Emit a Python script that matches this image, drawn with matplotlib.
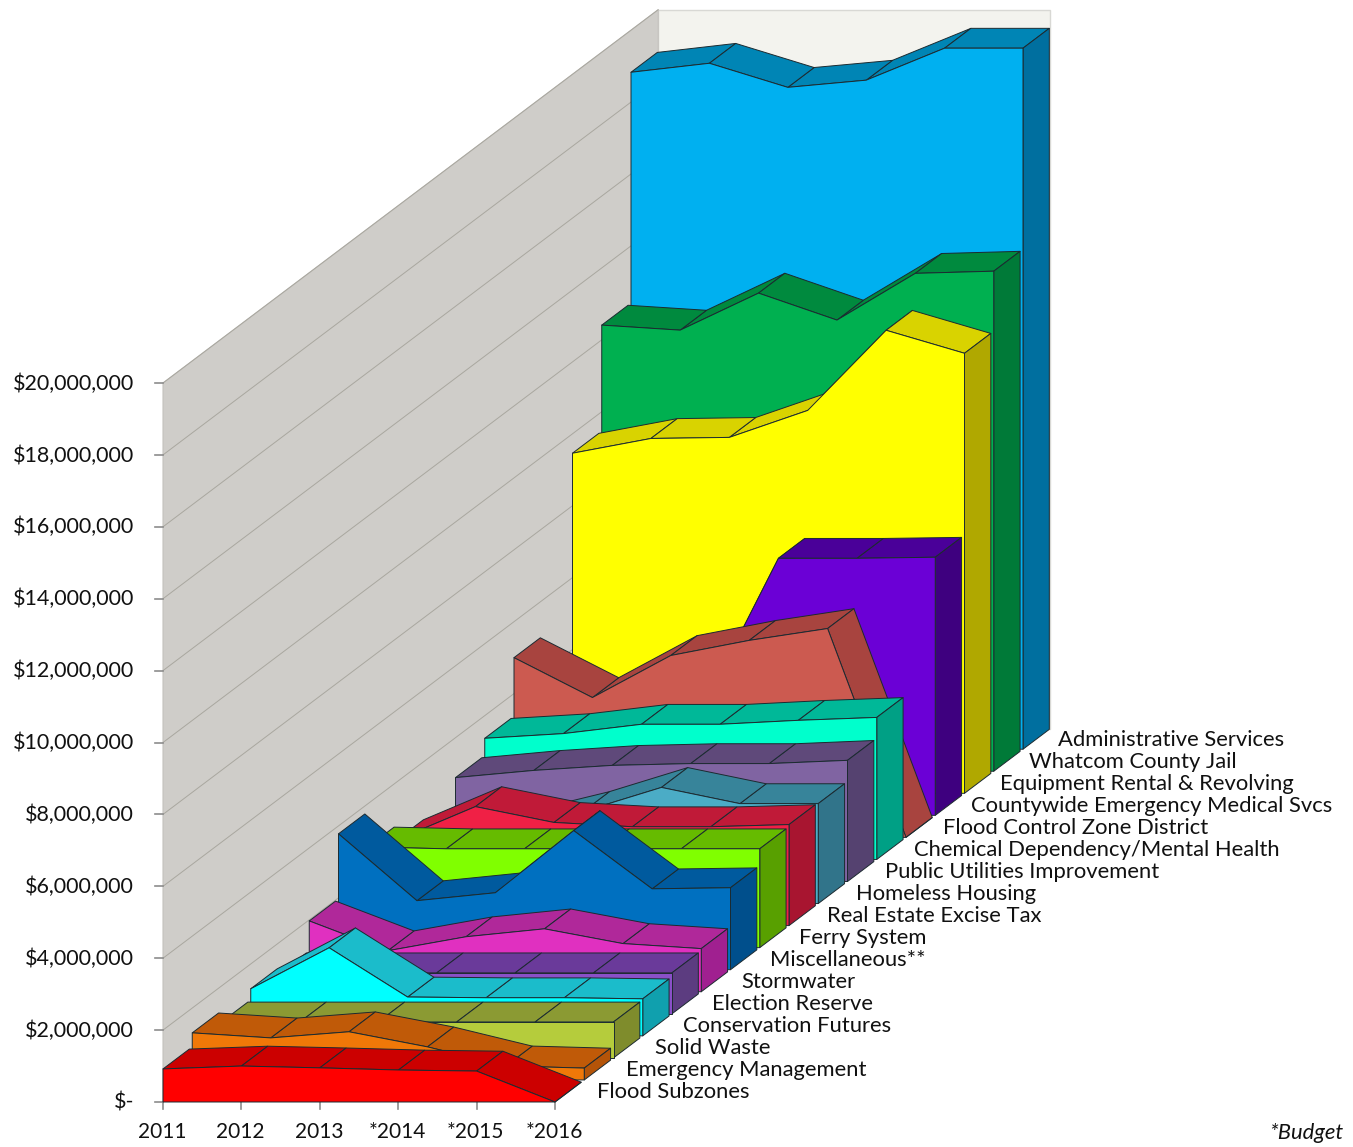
import matplotlib
matplotlib.use('Agg')
import matplotlib.pyplot as plt
from matplotlib.patches import Polygon

plt.rcParams['font.family'] = ['Lato', 'DejaVu Sans']

# Fund totals per year, in millions of dollars
years = ['2011', '2012', '2013', '*2014', '*2015', '*2016']
flood_subzones = [0.92, 1.00, 0.95, 0.89, 0.86, 0.0]
emergency_mgmt = [1.31, 1.17, 1.34, 0.92, 0.39, 0.33]
solid_waste = [1.0, 1.0, 1.0, 1.0, 1.0, 1.0]
conservation = [1.31, 2.45, 1.08, 1.06, 1.06, 1.03]
election_reserve = [1.14, 1.14, 1.14, 1.14, 1.14, 1.14]
stormwater = [1.97, 1.14, 1.53, 1.75, 1.34, 1.20]
miscellaneous = [3.78, 1.92, 2.14, 3.87, 2.25, 2.28]
ferry_system = [2.80, 2.75, 2.75, 2.75, 2.75, 2.75]
real_estate_tax = [2.39, 3.31, 2.87, 2.75, 2.75, 2.81]
homeless_housing = [2.00, 2.03, 2.56, 3.23, 2.78, 2.78]
public_utilities = [2.89, 3.09, 3.23, 3.28, 3.28, 3.37]
chemical_dep = [3.37, 3.50, 3.76, 3.76, 3.87, 3.95]
flood_control = [5.00, 3.89, 5.06, 5.48, 5.81, 0.0]
emergency_medical = [2.00, 2.50, 2.85, 7.15, 7.15, 7.18]
equipment_rental = [9.46, 9.87, 9.90, 10.65, 12.88, 12.24]
county_jail = [12.41, 12.27, 13.30, 12.55, 13.85, 13.91]
admin_services = [18.83, 19.08, 18.41, 18.61, 19.50, 19.50]

# front to back
series_names = ['Flood Subzones', 'Emergency Management', 'Solid Waste', 'Conservation Futures',
                'Election Reserve', 'Stormwater', 'Miscellaneous**', 'Ferry System',
                'Real Estate Excise Tax', 'Homeless Housing', 'Public Utilities Improvement',
                'Chemical Dependency/Mental Health', 'Flood Control Zone District',
                'Countywide Emergency Medical Svcs', 'Equipment Rental & Revolving',
                'Whatcom County Jail', 'Administrative Services']
series_values = [flood_subzones, emergency_mgmt, solid_waste, conservation, election_reserve,
                 stormwater, miscellaneous, ferry_system, real_estate_tax, homeless_housing,
                 public_utilities, chemical_dep, flood_control, emergency_medical,
                 equipment_rental, county_jail, admin_services]

# front, top and side shades of each series
series_colors = [('#FF0000', '#CC0000', '#C00000'), ('#F07808', '#C05A08', '#B45408'),
                 ('#B5CC3C', '#8B9A33', '#7F8C2C'), ('#00FFFF', '#1BBCCB', '#10A0AE'),
                 ('#8A50C8', '#6A3A9A', '#5C3C80'), ('#E030C0', '#B0289A', '#A02090'),
                 ('#0070C0', '#005A9E', '#004F8C'), ('#80FF00', '#66BB00', '#58A000'),
                 ('#F02045', '#C01A38', '#A81530'), ('#4BACC6', '#37849A', '#31748A'),
                 ('#8064A2', '#5F497A', '#554270'), ('#00FFCC', '#00B898', '#00A085'),
                 ('#CC5A50', '#A8443F', '#A03E3A'), ('#6B00D6', '#4A0099', '#3E007F'),
                 ('#FFFF00', '#D9D300', '#B0A800'), ('#00B050', '#008A3E', '#007A38'),
                 ('#00B0F0', '#0085B5', '#006F9F')]

# oblique projection, in pixels
origin_x, origin_y = 163, 1102
year_step = 78.4
million_step = 35.95
depth_x, depth_y = 29.25, 22.05
band = 0.9  # share of a depth slot taken by a series
wall_depth = 16.93
max_value = 20
edge = '#1c2a30'
axis_grey = '#8C8C8C'
text_color = '#111111'


def project(year, depth, value):
    return (origin_x + year * year_step + depth * depth_x,
            origin_y - value * million_step - depth * depth_y)


fig = plt.figure(figsize=(13.53, 11.47), dpi=100)
ax = fig.add_axes([0, 0, 1, 1])
ax.set_xlim(0, 1353)
ax.set_ylim(1147, 0)
ax.axis('off')

n_depth = len(series_names)
n_years = len(years)
last = n_years - 1

# walls
ax.add_patch(Polygon([project(0, wall_depth, 0), project(last, wall_depth, 0),
                      project(last, wall_depth, max_value), project(0, wall_depth, max_value)],
                     fc='#F3F3EE', ec='#D8D8D4', lw=1, zorder=1))
ax.add_patch(Polygon([project(0, 0, 0), project(0, wall_depth, 0),
                      project(0, wall_depth, max_value), project(0, 0, max_value)],
                     fc='#CFCDC9', ec='#C4C2BE', lw=0.8, zorder=1))
for v in range(0, max_value + 1, 2):
    a, b = project(0, 0, v), project(0, wall_depth, v)
    ax.plot([a[0], b[0]], [a[1], b[1]], color='#A9A79F', lw=0.7, zorder=2)

# series, back to front
for i in range(n_depth - 1, -1, -1):
    vals = series_values[i]
    front_c, top_c, side_c = series_colors[i]
    back = i + band
    z = 3 + (n_depth - i)

    # rising strips turn away from the viewer, so they go down first
    segs = sorted(range(last), key=lambda s: vals[s] - vals[s + 1])
    for s in segs:
        ax.add_patch(Polygon([project(s, i, vals[s]), project(s + 1, i, vals[s + 1]),
                              project(s + 1, back, vals[s + 1]), project(s, back, vals[s])],
                             fc=top_c, ec=edge, lw=0.7, joinstyle='round', zorder=z))

    ax.add_patch(Polygon([project(last, i, 0), project(last, back, 0),
                          project(last, back, vals[-1]), project(last, i, vals[-1])],
                         fc=side_c, ec=edge, lw=0.7, joinstyle='round', zorder=z))

    outline = [project(y, i, vals[y]) for y in range(n_years)]
    outline += [project(last, i, 0), project(0, i, 0)]
    ax.add_patch(Polygon(outline, fc=front_c, ec=edge, lw=0.7, joinstyle='round', zorder=z))

# value axis
for v in range(0, max_value + 1, 2):
    x, y = project(0, 0, v)
    ax.plot([x - 8, x], [y, y], color=axis_grey, lw=1.2)
    label = '$-' if v == 0 else f'${v * 1000000:,}'
    ax.text(x - 29, y + 0.5, label, ha='right', va='center', fontsize=15.5, color=text_color)

# year axis
for k, name in enumerate(years):
    x, y = project(k, 0, 0)
    ax.plot([x, x], [y, y + 7], color=axis_grey, lw=1.2)
    ax.text(x - 1, y + 30, name, ha='center', va='center', fontsize=15, color=text_color)

# depth axis labels
for i, name in enumerate(series_names):
    x, y = project(last, i, 0)
    ax.text(x + 42 - i * 0.45, y - 9.5, name, ha='left', va='center', fontsize=15.8,
            color=text_color)

ax.text(1343, 1133, '*Budget', ha='right', va='center', fontsize=15.8, style='italic',
        color=text_color)

fig.savefig('out.png', dpi=100)
